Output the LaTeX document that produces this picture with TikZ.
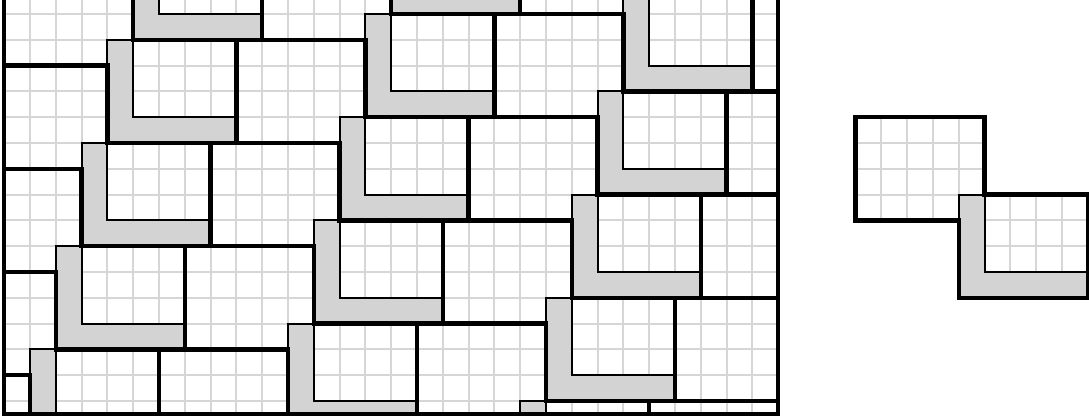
\documentclass[tikz,border=0pt]{standalone}
\definecolor{tilegray}{RGB}{211,211,211}
\definecolor{gridgray}{RGB}{214,214,214}
\tikzset{
  gridline/.style={draw=gridgray, line width=1.1pt},
  lfill/.style={fill=tilegray},
  lthin/.style={draw=black, line width=1.1pt, line join=miter},
  outline/.style={draw=black, line width=2.4pt, line join=miter},
  border/.style={draw=black, line width=2.4pt, line join=miter, line cap=rect},
}
\begin{document}
\begin{tikzpicture}[x=0.5cm,y=-0.5cm]
\useasboundingbox (-0.163,-0.543) rectangle (42.046,15.697);
% ---- tiling ----
\begin{scope}
  \clip (0,-0.7) rectangle (30,15.5);
  \foreach \i in {0,...,30} \draw[gridline] (\i,-1) -- (\i,16);
  \foreach \j in {-1,...,15} \draw[gridline] (-1,\j) -- (31,\j);
  \foreach \m in {-5,...,3}{\foreach \n in {-1,...,4}{
    \pgfmathtruncatemacro\a{\m+9*\n}
    \pgfmathtruncatemacro\b{-2-4*\m+3*\n}
    \fill[lfill,shift={(\a,\b)}] (4,3) -- (5,3) -- (5,6) -- (9,6) -- (9,7) -- (4,7) -- cycle;
  }}
  \foreach \m in {-5,...,3}{\foreach \n in {-1,...,4}{
    \pgfmathtruncatemacro\a{\m+9*\n}
    \pgfmathtruncatemacro\b{-2-4*\m+3*\n}
    \draw[lthin,shift={(\a,\b)}] (4,3) -- (5,3) -- (5,6) -- (9,6) -- (9,7) -- (4,7) -- cycle;
  }}
  \foreach \m in {-5,...,3}{\foreach \n in {-1,...,4}{
    \pgfmathtruncatemacro\a{\m+9*\n}
    \pgfmathtruncatemacro\b{-2-4*\m+3*\n}
    \draw[outline,shift={(\a,\b)}] (0,0) -- (5,0) -- (5,3) -- (9,3) -- (9,7) -- (4,7) -- (4,4) -- (0,4) -- cycle;
  }}
\end{scope}
\draw[border] (0,-1) -- (0,15.5) -- (30,15.5) -- (30,-1);
% ---- single tile ----
\begin{scope}
  \clip (33,4) -- (38,4) -- (38,7) -- (42,7) -- (42,11) -- (37,11) -- (37,8) -- (33,8) -- cycle;
  \foreach \i in {33,...,42} \draw[gridline] (\i,4) -- (\i,11);
  \foreach \j in {4,...,11} \draw[gridline] (33,\j) -- (42,\j);
\end{scope}
\fill[lfill] (37,7) -- (38,7) -- (38,10) -- (42,10) -- (42,11) -- (37,11) -- cycle;
\draw[lthin] (37,7) -- (38,7) -- (38,10) -- (42,10) -- (42,11) -- (37,11) -- cycle;
\draw[outline] (33,4) -- (38,4) -- (38,7) -- (42,7) -- (42,11) -- (37,11) -- (37,8) -- (33,8) -- cycle;
\end{tikzpicture}
\end{document}
